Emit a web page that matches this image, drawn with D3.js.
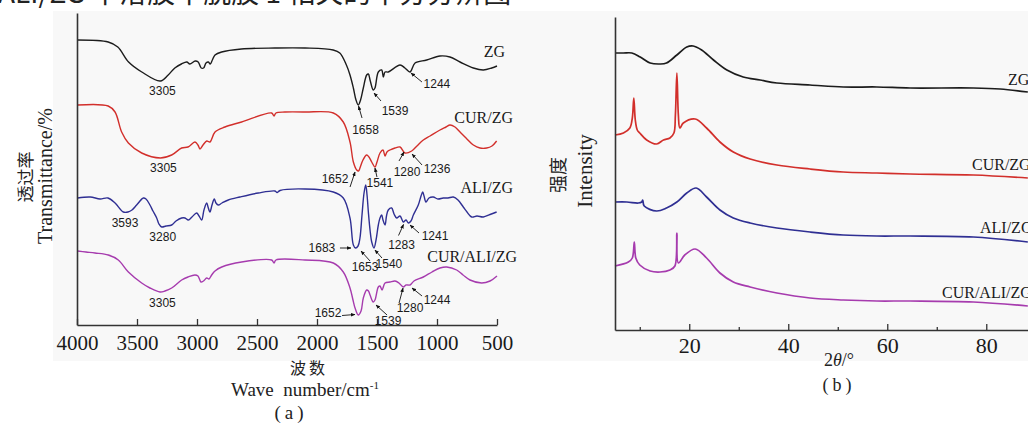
<!DOCTYPE html>
<html>
<head>
<meta charset="utf-8">
<script src="https://cdn.jsdelivr.net/npm/d3@7/dist/d3.min.js"></script>
<style>
body { margin: 0; background: #fff; }
svg { display: block; }
</style>
</head>
<body>
<svg id="fig" width="1028" height="424"></svg>
<script>
// (a) FTIR spectra: [wavenumber, transmittance (a.u., offset per curve)]
var ftirZG = [[3995,285],[3740,283],[3660,278],[3570,263],[3460,253],[3305,244],[3240,250],[3185,257],[3130,261],[3085,263],[3060,261],[3015,264],[2990,263],[2965,257],[2945,257],[2925,262],[2905,263],[2890,261],[2872,265],[2850,270],[2795,273],[2630,276],[2350,277],[2100,277],[1865,275],[1810,272],[1755,260],[1725,250],[1697,237],[1675,225],[1656,220],[1637,225],[1614,237],[1586,250],[1572,251],[1558,245],[1531,235],[1517,237],[1489,253],[1461,255],[1447,248],[1433,253],[1406,253],[1308,260],[1267,257],[1225,253],[1183,262],[1086,265],[975,269],[892,268],[808,263],[697,257],[614,255],[544,257],[500,259]];
var ftirCUR = [[3995,220],[3740,219],[3683,213],[3628,193],[3572,182],[3461,172],[3305,167],[3211,170],[3128,177],[3075,178],[3017,183],[2992,180],[2975,176],[2950,180],[2919,184],[2892,183],[2850,193],[2767,198],[2628,203],[2378,212],[2358,209],[2342,212],[2267,213],[2100,213],[1864,212],[1781,203],[1725,183],[1697,163],[1669,155],[1654,154],[1642,157],[1617,165],[1586,170],[1567,168],[1544,163],[1517,158],[1500,163],[1475,172],[1450,175],[1433,169],[1417,173],[1392,175],[1350,177],[1308,178],[1267,172],[1211,174],[1167,179],[1114,185],[1058,189],[975,195],[925,198],[892,200],[850,198],[808,193],[758,187],[697,180],[642,177],[586,177],[542,179],[503,184]];
var ftirALI = [[3995,127],[3890,128],[3808,126],[3742,127],[3683,122],[3614,113],[3575,113],[3542,115],[3503,120],[3447,127],[3425,126],[3392,120],[3367,114],[3336,107],[3317,101],[3294,98],[3258,99],[3211,100],[3175,104],[3128,107],[3100,107],[3072,105],[3042,108],[3003,112],[2983,109],[2961,105],[2942,115],[2919,122],[2908,118],[2892,113],[2875,120],[2856,126],[2842,122],[2822,120],[2792,122],[2739,125],[2642,128],[2489,132],[2350,134],[2333,132.5],[2308,134.5],[2100,136],[1864,133],[1781,127],[1725,107],[1697,80],[1679,77],[1658,79],[1642,87],[1625,110],[1608,132],[1594,140],[1583,130],[1572,113],[1558,95],[1544,83],[1525,77],[1508,85],[1489,100],[1475,107],[1461,110],[1450,105],[1433,100],[1421,109],[1406,115],[1378,117],[1358,111],[1336,107],[1308,109],[1281,103],[1258,105],[1239,102],[1217,104],[1197,110],[1156,120],[1133,129],[1119,133],[1108,129],[1092,123],[1067,127],[1031,128],[992,126],[948,127],[908,127],[864,128],[825,125],[781,118],[750,113],[711,108],[667,109],[614,108],[558,110.5],[503,113]];
var ftirCURALI = [[3995,74],[3925,73],[3850,72],[3739,70],[3656,65],[3572,53],[3461,42],[3392,37],[3308,33],[3267,34],[3211,37],[3128,45],[3075,48],[3017,50],[2992,49],[2967,43],[2946,44],[2919,47],[2900,46],[2878,50],[2850,54],[2794,58],[2628,63],[2378,65],[2358,62],[2342,65],[2100,65],[1864,62],[1781,53],[1725,37],[1700,25],[1683,17],[1656,10],[1633,14],[1614,27],[1586,35],[1571,34],[1558,30],[1531,23],[1517,25],[1489,38],[1475,39],[1458,35],[1433,42],[1392,43],[1350,44],[1317,42],[1281,38],[1258,40],[1225,40],[1192,44],[1114,48],[1042,53],[975,57],[919,58],[836,55],[783,50],[725,45],[628,42],[558,44],[500,49]];

// (b) XRD patterns: [2theta, intensity (a.u., offset per curve)]
var xrdZG = [[5,277],[6.7,277],[8.4,277],[10.1,273],[12.1,267],[14.1,266],[15.4,267],[17.5,275],[19.5,283],[20.8,284],[22.5,280],[24.9,270],[27.6,260],[30.9,253],[34.3,250],[37.7,247],[44.4,245],[51.1,243],[57.9,243],[64.6,242],[77.4,242],[82.8,241],[88.4,238]];
var xrdCUR = [[5,195],[6.7,197],[8.0,202],[8.5,212],[8.8,232],[9.1,210],[9.5,200],[10.0,197],[11.4,190],[13.4,186],[14.8,190],[16.1,192],[16.9,197],[17.2,215],[17.5,257],[17.8,215],[18.1,202],[18.8,207],[21.2,211],[23.5,202],[26.2,188],[28.9,178],[32.3,171],[37.7,165],[44.4,161],[51.1,158],[57.9,157],[64.6,156],[77.4,155],[88.4,152]];
var xrdALI = [[5,128],[7.4,128],[9.7,127],[10.4,128],[10.6,130],[10.9,124],[13.4,119],[15.4,122],[17.5,128],[19.5,137],[21.4,142],[23.5,133],[26.2,120],[28.9,112],[32.3,107],[37.7,102],[44.4,98],[51.1,95],[57.9,94],[64.6,94],[77.4,93],[88.4,88]];
var xrdCURALI = [[5,64],[7.7,68],[8.5,72],[8.9,88],[9.2,72],[10.0,65],[12.1,59],[14.1,58],[16.1,60],[17.1,64],[17.5,97],[17.8,67],[19.1,75],[21.2,81],[23.5,72],[26.2,57],[28.9,48],[32.3,43],[37.7,37],[44.4,32],[51.1,30],[57.9,29],[64.6,29],[77.4,28],[88.4,24]];

var seriesNames = ["ZG", "CUR/ZG", "ALI/ZG", "CUR/ALI/ZG"];
var ftirTicks = [4000, 3500, 3000, 2500, 2000, 1500, 1000, 500];
var xrdTicks = [20, 40, 60, 80];
var xrdMinorTicks = [10, 30, 50, 70];

// peak labels: [series, label, tip wavenumber, tip value]
var ftirPeaks = [
    [0, "3305", 3305, 244], [0, "1658", 1654, 219], [0, "1539", 1525, 232], [0, "1244", 1217, 252],
    [1, "3305", 3305, 167], [1, "1652", 1683, 153], [1, "1541", 1517, 157], [1, "1280", 1275, 173], [1, "1236", 1208, 171],
    [2, "3593", 3575, 113], [2, "3280", 3294, 98], [2, "1683", 1717, 77], [2, "1653", 1633, 74], [2, "1540", 1517, 75], [2, "1283", 1279, 100.5], [2, "1241", 1225, 100],
    [3, "3305", 3305, 33], [3, "1652", 1683, 10.5], [3, "1539", 1508, 20], [3, "1280", 1283, 37], [3, "1244", 1208, 37]
];

// layout for the peak labels: [text dx, text dy, arrow start dx, arrow start dy] (null = no arrow)
var peakLayout = [
    [2, 14, null], [7, 28, [3.5, 12]], [21, 22, [7, 8]], [26, 15, [11, 9]],
    [3, 14, null], [-20, 11, [-5, 15]], [5, 19, [2, 9]], [3, 24, [-5, 9]], [25, 19, [10, 11]],
    [-3, 15, null], [1, 14, null], [-29, 4, [-11, 0]], [4, 20, [9, 10]], [14, 18, [7, 8]], [-2, 24, [-5, 11]], [25, 15, [9, 8]],
    [2, 15, null], [-27, 2, [-13, 1]], [12, 20, [11, 10]], [7, 24, [-4, 15]], [25, 16, [10, 8]]
];

var colors = ["#1c1c1c", "#d22f2b", "#2f2f93", "#a63bae"];
var serif = "'Liberation Serif', 'Times New Roman', serif",
    sans = "'Liberation Sans', Arial, sans-serif",
    cjk = "'Noto Sans CJK SC', sans-serif";

var svg = d3.select("#fig");

// panel background (scanned page)
svg.append("rect")
    .attr("x", 53).attr("y", 11)
    .attr("width", 975).attr("height", 350)
    .attr("fill", "#f8f8f8");

// caption cut off at the top of the scan
svg.append("text")
    .attr("x", -2).attr("y", 3)
    .style("font-family", cjk).style("font-size", "28px").attr("fill", "#222")
    .text("ALI/ZG 中溶胶中脱胶 1 相关的平分分辨图");

svg.append("defs").append("marker")
    .attr("id", "arrow")
    .attr("viewBox", "0 0 10 10")
    .attr("refX", 9).attr("refY", 5)
    .attr("markerWidth", 5).attr("markerHeight", 5)
    .attr("orient", "auto")
    .append("path")
    .attr("d", "M0,1L10,5L0,9Z")
    .attr("fill", "#111");

// ---------- (a) FTIR ----------
var xA = d3.scaleLinear().domain([4000, 500]).range([77, 497]),
    yA = d3.scaleLinear().domain([0, 312]).range([325, 13]);

var gA = svg.append("g");

var lineA = d3.line()
    .x(function(d) { return xA(d[0]); })
    .y(function(d) { return yA(d[1]); })
    .curve(d3.curveCatmullRom.alpha(0.5));

[ftirZG, ftirCUR, ftirALI, ftirCURALI].forEach(function(s, i) {
    gA.append("path")
        .datum(s)
        .attr("d", lineA)
        .attr("fill", "none")
        .attr("stroke", colors[i])
        .attr("stroke-width", 1.4);
});

var axA = gA.append("g")
    .attr("transform", "translate(0,325)")
    .call(d3.axisBottom(xA).tickValues(ftirTicks).tickSize(-6).tickSizeOuter(0).tickFormat(d3.format("d")));
axA.select(".domain").attr("stroke", "#333").attr("stroke-width", 1.6);
axA.selectAll(".tick line").attr("stroke", "#333").attr("stroke-width", 1.3);
axA.selectAll(".tick text")
    .attr("y", 25).attr("dy", 0)
    .attr("fill", "#1a1a1a")
    .style("font-family", serif).style("font-size", "21px");

var ayA = gA.append("g")
    .attr("transform", "translate(77,0)")
    .call(d3.axisLeft(yA).tickValues([]).tickSizeOuter(0));
ayA.select(".domain").attr("stroke", "#333").attr("stroke-width", 1.6);

// peak labels and arrows
ftirPeaks.forEach(function(p, i) {
    var lay = peakLayout[i],
        tx = xA(p[2]),
        ty = yA(p[3]);
    gA.append("text")
        .attr("x", tx + lay[0]).attr("y", ty + lay[1])
        .attr("text-anchor", "middle")
        .style("font-family", sans).style("font-size", "12px")
        .attr("fill", "#1a1a1a")
        .text(p[1]);
    if (lay[2]) {
        gA.append("line")
            .attr("x1", tx + lay[2][0]).attr("y1", ty + lay[2][1])
            .attr("x2", tx).attr("y2", ty)
            .attr("stroke", "#111").attr("stroke-width", 0.9)
            .attr("marker-end", "url(#arrow)");
    }
});

// curve names
var labelPosA = [[505, 57], [513, 123], [513, 193], [517, 262]];
seriesNames.forEach(function(n, i) {
    gA.append("text")
        .attr("x", labelPosA[i][0]).attr("y", labelPosA[i][1])
        .attr("text-anchor", "end")
        .style("font-family", serif).style("font-size", "16px")
        .attr("fill", "#1a1a1a")
        .text(n);
});

// axis titles
gA.append("text")
    .attr("transform", "translate(32,177) rotate(-90)")
    .attr("text-anchor", "middle")
    .style("font-family", cjk).style("font-size", "17px").attr("fill", "#222")
    .text("透过率");
gA.append("text")
    .attr("transform", "translate(52,176) rotate(-90)")
    .attr("text-anchor", "middle")
    .style("font-family", serif).style("font-size", "20px").attr("fill", "#222")
    .text("Transmittance/%");
gA.append("text")
    .attr("x", 309).attr("y", 374)
    .attr("text-anchor", "middle")
    .style("font-family", cjk).style("font-size", "16px").style("letter-spacing", "3px").attr("fill", "#222")
    .text("波数");
var wn = gA.append("text")
    .attr("x", 305).attr("y", 396)
    .attr("text-anchor", "middle")
    .style("font-family", serif).style("font-size", "19px").attr("fill", "#222")
    .attr("xml:space", "preserve");
wn.append("tspan").text("Wave  number/cm");
wn.append("tspan").attr("dy", -7).style("font-size", "11px").text("-1");
gA.append("text")
    .attr("x", 291).attr("y", 419)
    .attr("text-anchor", "middle")
    .style("font-family", serif).style("font-size", "19px").style("letter-spacing", "4px").attr("fill", "#222")
    .text("(a)");

// ---------- (b) XRD ----------
var xB = d3.scaleLinear().domain([5, 88.43]).range([615, 1028]),
    yB = d3.scaleLinear().domain([0, 313]).range([330, 17]);

var gB = svg.append("g");

var lineB = d3.line()
    .x(function(d) { return xB(d[0]); })
    .y(function(d) { return yB(d[1]); })
    .curve(d3.curveCatmullRom.alpha(0.5));

[xrdZG, xrdCUR, xrdALI, xrdCURALI].forEach(function(s, i) {
    gB.append("path")
        .datum(s)
        .attr("d", lineB)
        .attr("fill", "none")
        .attr("stroke", colors[i])
        .attr("stroke-width", 1.7);
});

var axB = gB.append("g")
    .attr("transform", "translate(0,330)")
    .call(d3.axisBottom(xB).tickValues(xrdTicks).tickSize(-6).tickSizeOuter(0));
axB.select(".domain").attr("stroke", "#333").attr("stroke-width", 1.6);
axB.selectAll(".tick line").attr("stroke", "#333").attr("stroke-width", 1.3);
axB.selectAll(".tick text")
    .attr("y", 23).attr("dy", 0)
    .attr("fill", "#1a1a1a")
    .style("font-family", serif).style("font-size", "22px");

var axBm = gB.append("g")
    .attr("transform", "translate(0,330)")
    .call(d3.axisBottom(xB).tickValues(xrdMinorTicks).tickSize(-3).tickFormat(""));
axBm.select(".domain").remove();
axBm.selectAll(".tick line").attr("stroke", "#333").attr("stroke-width", 1.3);

var ayB = gB.append("g")
    .attr("transform", "translate(615,0)")
    .call(d3.axisLeft(yB).tickValues([]).tickSizeOuter(0));
ayB.select(".domain").attr("stroke", "#333").attr("stroke-width", 1.6);

var labelPosB = [[1008, 85], [972, 170], [980, 233], [942, 298]];
seriesNames.forEach(function(n, i) {
    gB.append("text")
        .attr("x", labelPosB[i][0]).attr("y", labelPosB[i][1])
        .style("font-family", serif).style("font-size", "16px")
        .attr("fill", "#1a1a1a")
        .text(n);
});

gB.append("text")
    .attr("transform", "translate(565,175) rotate(-90)")
    .attr("text-anchor", "middle")
    .style("font-family", cjk).style("font-size", "18px").attr("fill", "#222")
    .text("强度");
gB.append("text")
    .attr("transform", "translate(592,171) rotate(-90)")
    .attr("text-anchor", "middle")
    .style("font-family", serif).style("font-size", "21px").attr("fill", "#222")
    .text("Intensity");
var tt = gB.append("text")
    .attr("x", 839).attr("y", 366)
    .attr("text-anchor", "middle")
    .style("font-family", serif).style("font-size", "18px").attr("fill", "#222");
tt.append("tspan").text("2");
tt.append("tspan").style("font-style", "italic").text("θ");
tt.append("tspan").text("/°");
gB.append("text")
    .attr("x", 839).attr("y", 391)
    .attr("text-anchor", "middle")
    .style("font-family", serif).style("font-size", "18px").style("letter-spacing", "4px").attr("fill", "#222")
    .text("(b)");
</script>
</body>
</html>
